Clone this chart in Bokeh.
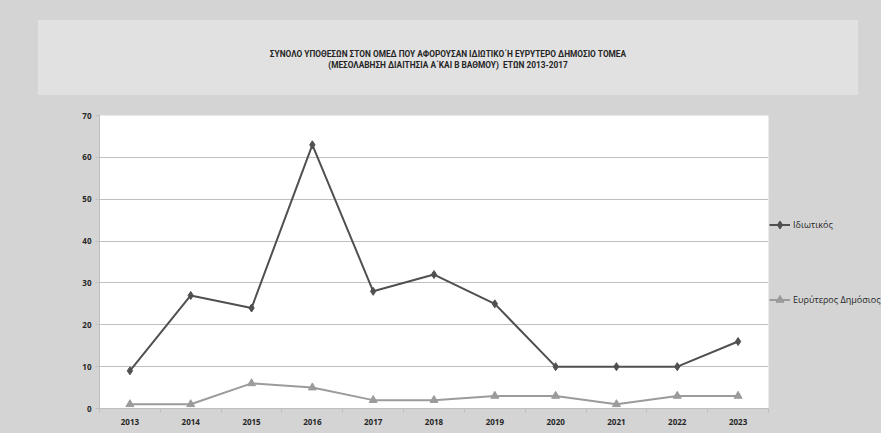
from bokeh.plotting import figure
from bokeh.models import Range1d, FixedTicker, Legend, LegendItem, ColumnDataSource, Div
from bokeh.layouts import column
from bokeh.embed import file_html
from bokeh.resources import INLINE

# ---- data ----
years = ["2013", "2014", "2015", "2016", "2017", "2018", "2019", "2020", "2021", "2022", "2023"]
private_cases = [9, 27, 24, 63, 28, 32, 25, 10, 10, 10, 16]
public_cases = [1, 1, 6, 5, 2, 2, 3, 3, 1, 3, 3]
series_names = ["Ιδιωτικός", "Ευρύτερος Δημόσιος"]
title_lines = [
    "ΣΥΝΟΛΟ ΥΠΟΘΕΣΩΝ ΣΤΟΝ ΟΜΕΔ ΠΟΥ ΑΦΟΡΟΥΣΑΝ ΙΔΙΩΤΙΚΟ΄Η ΕΥΡΥΤΕΡΟ ΔΗΜΟΣΙΟ ΤΟΜΕΑ",
    "(ΜΕΣΟΛΑΒΗΣΗ ΔΙΑΙΤΗΣΙΑ Α΄ΚΑΙ Β ΒΑΘΜΟΥ)&nbsp; ΕΤΩΝ 2013-2017",
]
y_ticks = [0, 10, 20, 30, 40, 50, 60, 70]

BG = "#d4d4d4"
TITLE_BG = "#e1e1e1"
GRID = "#bfbfbf"
C1 = "#505050"
C2 = "#9b9b9b"
TXT = "#262626"

# ---- title panel ----
title_html = (
    '<div style="padding:20px 0 0 38px; margin:0;">'
    '<div style="width:820px; height:75px; background:%s; box-sizing:border-box; padding-top:4px;'
    ' display:flex; flex-direction:column; justify-content:center; align-items:center;'
    ' font-family:Roboto; font-weight:bold; font-size:8.3px; line-height:11px; color:%s;">'
    '%s</div></div>'
) % (TITLE_BG, TXT, "".join('<div style="white-space:nowrap;">%s</div>' % t for t in title_lines))
head = Div(text=title_html, width=881, height=106, margin=0,
           styles={"background-color": BG, "margin": "0", "padding": "0"})

# ---- chart ----
idx = list(range(len(years)))
src = ColumnDataSource(dict(x=idx, a=private_cases, b=public_cases))

p = figure(frame_width=669, frame_height=293,
           x_range=Range1d(-0.5, len(years) - 0.5), y_range=Range1d(y_ticks[0], y_ticks[-1]),
           toolbar_location=None, output_backend="svg",
           min_border_left=99, min_border_top=9, min_border_bottom=25, min_border_right=113,
           background_fill_color="white", border_fill_color=BG, outline_line_color=None,
           margin=0)

l1 = p.line("x", "a", source=src, line_color=C1, line_width=2)
m1 = p.scatter("x", "a", source=src, marker="diamond", size=8, fill_color=C1, line_color=C1)
l2 = p.line("x", "b", source=src, line_color=C2, line_width=2)
m2 = p.scatter("x", "b", source=src, marker="triangle", size=8, fill_color=C2, line_color=C2)

p.xgrid.visible = False
p.ygrid.grid_line_color = GRID
p.ygrid.ticker = FixedTicker(ticks=y_ticks)

xa = p.xaxis[0]
xa.ticker = FixedTicker(ticks=idx, minor_ticks=[i - 0.5 for i in range(len(years) + 1)])
xa.major_label_overrides = {i: y for i, y in enumerate(years)}
xa.major_tick_out = 0
xa.major_tick_in = 0
xa.minor_tick_out = 4
xa.minor_tick_in = 0
xa.minor_tick_line_color = GRID
xa.axis_line_color = GRID
xa.major_label_standoff = 6
xa.major_label_text_font = "Open Sans"
xa.major_label_text_font_style = "bold"
xa.major_label_text_font_size = "8px"
xa.major_label_text_color = TXT

ya = p.yaxis[0]
ya.ticker = FixedTicker(ticks=y_ticks)
ya.major_tick_out = 4
ya.major_tick_in = 0
ya.major_tick_line_color = GRID
ya.minor_tick_line_color = None
ya.axis_line_color = GRID
ya.major_label_standoff = 4
ya.major_label_text_font = "Open Sans"
ya.major_label_text_font_style = "bold"
ya.major_label_text_font_size = "8px"
ya.major_label_text_color = TXT

legend = Legend(items=[LegendItem(label=series_names[0], renderers=[l1, m1]),
                       LegendItem(label=series_names[1], renderers=[l2, m2])],
                location="center_left", orientation="vertical",
                spacing=55, glyph_width=21, glyph_height=20, label_height=20,
                label_standoff=3, padding=0, margin=1,
                background_fill_alpha=0, border_line_color=None,
                label_text_font="Open Sans", label_text_font_size="9px",
                label_text_color=TXT)
p.add_layout(legend, "right")

layout = column(head, p, spacing=0, margin=0, styles={"background-color": BG})

open("out.html", "w").write(file_html(layout, INLINE))
